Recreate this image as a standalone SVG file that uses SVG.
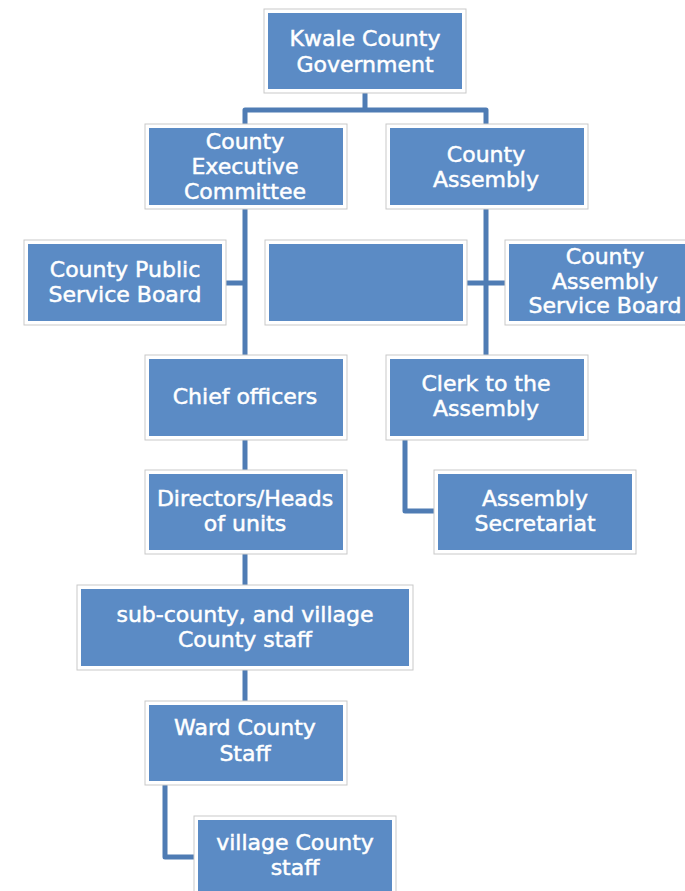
<svg xmlns="http://www.w3.org/2000/svg" width="685" height="891" viewBox="0 0 685 891">
<style>
.frame{fill:#ffffff;stroke:#c9c9c9;stroke-width:1}
.box{fill:#5b8bc5}
.lbl{font-family:"DejaVu Sans","Liberation Sans",sans-serif;font-size:22px;fill:#ffffff;stroke:#ffffff;stroke-width:0.5;text-anchor:middle}
.conn{fill:none;stroke:#4f7cb4;stroke-width:5;stroke-linejoin:round}
</style>
<rect width="685" height="891" fill="#ffffff"/>
<g id="connectors">
<path class="conn" d="M245,124 V110 H486 V124 M365,93 V110"/>
<path class="conn" d="M245,209 V355 M224,283 H245"/>
<path class="conn" d="M486,209 V355 M466,283 H506"/>
<path class="conn" d="M245,440 V470"/>
<path class="conn" d="M245,554 V585"/>
<path class="conn" d="M245,670 V701"/>
<path class="conn" d="M165,785 V857 H194"/>
<path class="conn" d="M405,440 V511 H434"/>
</g>
<g id="gov">
<rect class="frame" x="264" y="9" width="202" height="84"/>
<rect class="box" x="268" y="13" width="194" height="76"/>
<text class="lbl" x="365" y="46">Kwale County</text>
<text class="lbl" x="365" y="72">Government</text>
</g>
<g id="cec">
<rect class="frame" x="145" y="124" width="202" height="85"/>
<rect class="box" x="149" y="128" width="194" height="77"/>
<text class="lbl" x="245" y="149">County</text>
<text class="lbl" x="245" y="174">Executive</text>
<text class="lbl" x="245" y="199">Committee</text>
</g>
<g id="assembly">
<rect class="frame" x="386" y="124" width="202" height="85"/>
<rect class="box" x="390" y="128" width="194" height="77"/>
<text class="lbl" x="486" y="162">County</text>
<text class="lbl" x="486" y="187">Assembly</text>
</g>
<g id="cpsb">
<rect class="frame" x="24" y="240" width="202" height="85"/>
<rect class="box" x="28" y="244" width="194" height="77"/>
<text class="lbl" x="125" y="277">County Public</text>
<text class="lbl" x="125" y="302">Service Board</text>
</g>
<g id="blank">
<rect class="frame" x="265" y="240" width="202" height="85"/>
<rect class="box" x="269" y="244" width="194" height="77"/>
</g>
<g id="casb">
<rect class="frame" x="505" y="240" width="202" height="85"/>
<rect class="box" x="509" y="244" width="194" height="77"/>
<text class="lbl" x="605" y="264">County</text>
<text class="lbl" x="605" y="289">Assembly</text>
<text class="lbl" x="605" y="313">Service Board</text>
</g>
<g id="chief">
<rect class="frame" x="145" y="355" width="202" height="85"/>
<rect class="box" x="149" y="359" width="194" height="77"/>
<text class="lbl" x="245" y="404">Chief officers</text>
</g>
<g id="clerk">
<rect class="frame" x="386" y="355" width="202" height="85"/>
<rect class="box" x="390" y="359" width="194" height="77"/>
<text class="lbl" x="486" y="391">Clerk to the</text>
<text class="lbl" x="486" y="416">Assembly</text>
</g>
<g id="directors">
<rect class="frame" x="145" y="470" width="202" height="84"/>
<rect class="box" x="149" y="474" width="194" height="76"/>
<text class="lbl" x="245" y="506">Directors/Heads</text>
<text class="lbl" x="245" y="531">of units</text>
</g>
<g id="secretariat">
<rect class="frame" x="434" y="470" width="202" height="84"/>
<rect class="box" x="438" y="474" width="194" height="76"/>
<text class="lbl" x="535" y="506">Assembly</text>
<text class="lbl" x="535" y="531">Secretariat</text>
</g>
<g id="subcounty">
<rect class="frame" x="77" y="585" width="336" height="85"/>
<rect class="box" x="81" y="589" width="328" height="77"/>
<text class="lbl" x="245" y="622">sub-county, and village</text>
<text class="lbl" x="245" y="647">County staff</text>
</g>
<g id="ward">
<rect class="frame" x="145" y="701" width="202" height="84"/>
<rect class="box" x="149" y="705" width="194" height="76"/>
<text class="lbl" x="245" y="735">Ward County</text>
<text class="lbl" x="245" y="761">Staff</text>
</g>
<g id="village">
<rect class="frame" x="194" y="816" width="202" height="84"/>
<rect class="box" x="198" y="820" width="194" height="76"/>
<text class="lbl" x="295" y="850">village County</text>
<text class="lbl" x="295" y="875">staff</text>
</g>
</svg>
